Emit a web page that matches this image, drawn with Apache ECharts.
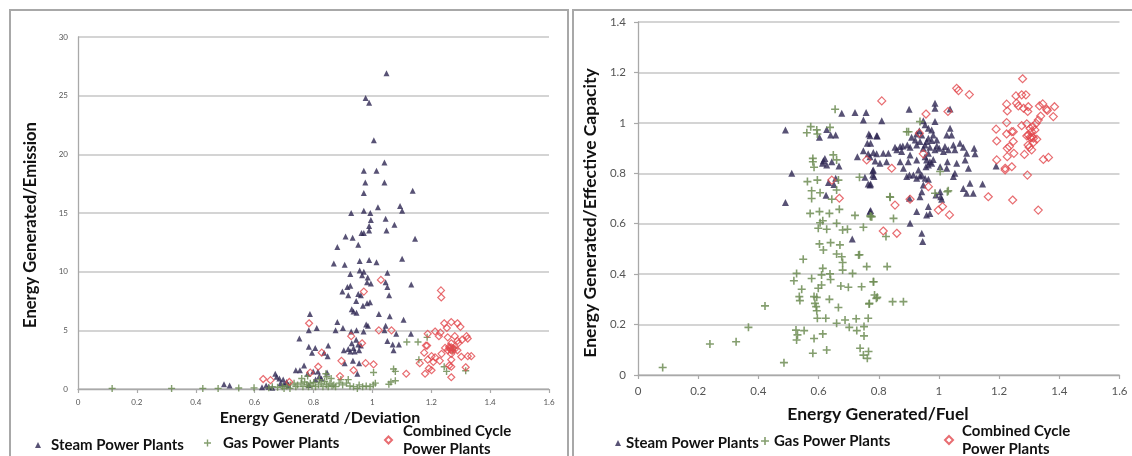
<!DOCTYPE html>
<html>
<head>
<meta charset="utf-8">
<script src="https://cdn.jsdelivr.net/npm/echarts@6/dist/echarts.min.js"></script>
<style>
html,body{margin:0;padding:0;background:#fff;}
#chart{width:1132px;height:456px;}
</style>
</head>
<body>
<div id="chart"></div>
<script>
// ---------- Data (left panel: Energy Generated/Deviation vs Energy Generated/Emission) ----------
const xTicksDev = [0, 0.2, 0.4, 0.6, 0.8, 1, 1.2, 1.4, 1.6];
const yTicksEmission = [0, 5, 10, 15, 20, 25, 30];

const steamDev = [
[1.048,26.9],[0.977,24.8],[0.989,24.4],[1.005,21.2],[1.041,19.3],[0.971,18.6],[1.014,18.6],[0.976,17.6],[1.041,17.6],[0.971,16.7],
[1.137,16.9],[1.094,15.6],[1.101,15.2],[1.019,15.5],[0.928,15.0],[0.971,15.2],[0.993,15.0],[0.995,14.4],[1.045,14.5],[1.075,14.0],
[0.989,13.9],[0.989,13.5],[0.963,13.3],[0.971,13.3],[1.048,13.5],[0.909,13.0],[0.933,12.9],[0.952,12.3],[1.145,12.8],[0.881,12.1],
[1.101,11.1],[0.957,10.9],[0.989,11.0],[1.014,10.8],[0.869,10.7],[0.906,10.6],[0.957,10.1],[0.971,10.0],[1.051,9.9],[0.925,9.8],
[0.965,9.7],[0.984,9.5],[0.982,9.1],[0.995,9.0],[1.045,9.1],[1.051,8.7],[1.132,8.9],[0.915,8.7],[0.925,8.8],[0.898,8.3],
[0.918,8.0],[0.952,8.1],[0.961,8.0],[1.057,8.0],[0.945,7.5],[0.992,7.4],[0.982,7.3],[0.968,7.1],[0.930,6.8],[0.936,6.6],
[0.946,6.5],[1.022,6.4],[0.788,6.4],[1.059,6.2],[1.106,5.9],[0.881,5.7],[0.979,5.5],[0.985,5.4],[1.045,5.4],[0.811,5.2],
[0.900,5.2],[0.784,5.0],[0.875,5.0],[0.928,4.9],[0.946,5.0],[0.970,4.9],[1.041,5.0],[1.131,4.7],[1.081,4.7],[0.752,4.3],
[0.945,4.2],[1.051,4.1],[0.930,3.9],[0.952,3.8],[1.069,3.8],[1.090,3.8],[0.850,3.7],[0.784,3.6],[0.806,3.5],[0.936,3.5],
[0.961,3.7],[0.918,3.4],[0.925,3.2],[0.940,3.2],[1.072,3.3],[0.795,3.1],[0.836,3.1],[0.903,3.3],[0.955,3.3],[0.848,2.8],
[0.934,2.4],[0.906,2.2],[0.955,2.2],[0.949,1.3],[0.768,2.0],[0.740,1.6],[0.754,1.6],[0.780,1.3],[0.799,1.5],[0.815,1.5],
[0.846,1.4],[0.820,1.1],[0.807,0.8],[0.670,1.3],[0.675,1.05],[0.684,0.9],[0.697,0.8],[0.709,0.6],[0.688,0.5],[0.700,0.4],
[0.715,0.35],[0.639,0.3],[0.648,0.2],[0.625,0.15],[0.660,0.1],[0.496,0.4],[0.515,0.3],[0.784,0.35],[0.827,0.9]
];

const gasDev = [
[0.116,0.05],[0.318,0.05],[0.424,0.05],[0.476,0.05],[0.546,0.08],[0.598,0.1],[0.648,0.1],[0.660,0.2],[0.678,0.15],[0.694,0.2],
[0.709,0.25],[0.721,0.35],[0.734,0.5],[0.740,0.2],[0.746,0.35],[0.758,0.5],[0.764,0.2],[0.770,0.6],[0.777,0.35],[0.783,0.2],
[0.789,0.5],[0.795,0.25],[0.801,0.55],[0.807,0.2],[0.817,0.35],[0.826,0.5],[0.832,0.2],[0.838,0.65],[0.844,0.35],[0.850,0.2],
[0.856,0.5],[0.863,0.25],[0.869,0.35],[0.875,0.2],[0.887,0.5],[0.893,0.8],[0.899,0.35],[0.912,0.5],[0.924,0.25],[0.936,0.2],
[0.949,0.05],[0.955,0.35],[0.967,0.2],[0.979,0.25],[0.992,0.2],[1.003,0.35],[1.010,0.5],[0.918,0.8],[0.842,1.3],[0.845,1.05],
[1.004,1.4],[1.072,1.7],[1.078,1.5],[1.063,0.6],[1.056,0.4],[1.078,0.7],[1.117,4.0],[1.155,4.0],[1.186,4.4],[1.158,2.5],
[1.244,1.9],[1.252,1.5],[1.317,1.55],[1.274,3.5],[1.272,3.3],[0.760,0.9],[0.780,1.1],[0.820,0.8],[0.860,0.9],[0.700,0.05],[0.720,0.05]
];

const ccDev = [
[1.233,8.4],[1.234,7.8],[1.029,9.3],[0.971,8.3],[0.785,5.6],[0.928,4.5],[0.965,3.9],[1.022,5.0],[1.065,5.0],[0.828,3.1],
[0.895,2.4],[0.936,1.6],[0.977,2.2],[1.004,2.1],[0.816,1.9],[0.789,1.4],[0.890,1.1],[0.629,0.85],[0.654,0.75],[0.718,0.6],
[1.115,1.3],[1.244,5.6],[1.268,5.7],[1.289,5.6],[1.299,5.3],[1.231,4.8],[1.213,4.9],[1.188,4.7],[1.253,5.2],[1.280,4.5],
[1.320,4.5],[1.324,4.3],[1.305,4.2],[1.289,4.1],[1.256,4.4],[1.226,4.5],[1.268,3.9],[1.292,3.9],[1.182,3.7],[1.186,3.7],
[1.261,3.6],[1.280,3.4],[1.256,3.3],[1.289,3.3],[1.176,3.1],[1.235,3.0],[1.268,3.0],[1.201,2.8],[1.213,2.7],[1.302,2.75],
[1.324,2.8],[1.336,2.8],[1.188,2.5],[1.207,2.3],[1.229,2.4],[1.268,2.5],[1.161,2.2],[1.261,2.0],[1.268,1.9],[1.192,1.75],
[1.201,1.6],[1.317,1.85],[1.179,1.3],[1.268,1.0],[1.247,3.5],[1.268,3.55],[1.274,3.45],[1.266,3.35],[1.271,3.25],[1.262,3.5]
];

// ---------- Data (right panel: Energy Generated/Fuel vs Energy Generated/Effective Capacity) ----------
const xTicksFuel = [0, 0.2, 0.4, 0.6, 0.8, 1, 1.2, 1.4, 1.6];
const yTicksCapacity = [0, 0.2, 0.4, 0.6, 0.8, 1, 1.2, 1.4];

const steamFuel = [
[0.987,1.078],[0.987,1.058],[1.037,1.055],[0.901,1.054],[0.810,1.008],[0.987,1.005],[0.948,1.008],[0.954,0.992],[0.965,0.979],[0.976,0.972],
[1.037,0.979],[1.026,0.952],[1.042,0.952],[0.795,0.948],[0.771,0.949],[0.935,0.969],[0.926,0.956],[0.909,0.943],[0.943,0.952],[0.965,0.939],
[0.981,0.952],[0.993,0.932],[0.976,0.930],[0.959,0.926],[0.954,0.912],[0.937,0.926],[0.921,0.932],[0.895,0.912],[0.854,0.903],[0.871,0.906],
[0.880,0.908],[0.860,0.893],[0.904,0.903],[0.926,0.912],[0.948,0.899],[0.970,0.903],[0.993,0.908],[1.001,0.899],[1.020,0.906],[1.048,0.912],
[1.070,0.919],[1.081,0.903],[1.117,0.899],[1.120,0.877],[1.092,0.879],[1.053,0.893],[1.031,0.893],[1.015,0.886],[0.987,0.893],[0.965,0.879],
[0.954,0.866],[0.959,0.853],[0.970,0.846],[0.976,0.840],[0.965,0.833],[0.981,0.855],[0.957,0.826],[0.926,0.853],[0.904,0.873],[0.876,0.886],
[0.832,0.879],[0.815,0.879],[0.793,0.877],[0.771,0.866],[0.826,0.846],[0.804,0.840],[0.782,0.813],[0.780,0.793],[0.771,0.754],[0.871,0.846],
[0.898,0.846],[0.882,0.820],[0.932,0.813],[0.915,0.793],[0.893,0.787],[0.937,0.789],[0.954,0.780],[0.943,0.793],[0.965,0.776],[0.902,0.793],
[0.926,0.780],[1.028,0.846],[1.004,0.826],[1.026,0.820],[1.048,0.787],[1.053,0.800],[1.059,0.840],[1.087,0.853],[1.098,0.820],[1.103,0.760],
[1.081,0.740],[1.092,0.721],[1.114,0.721],[1.145,0.758],[1.190,0.829],[1.004,0.727],[1.006,0.707],[0.990,0.714],[1.009,0.697],[0.948,0.754],
[0.943,0.727],[0.937,0.707],[0.965,0.668],[0.926,0.648],[0.959,0.635],[0.970,0.641],[0.904,0.602],[0.902,0.701],[0.943,0.562],[0.946,0.529],
[0.771,0.648],[0.677,1.038],[0.721,1.041],[0.758,1.041],[0.749,1.011],[0.490,0.972],[0.627,0.974],[0.603,0.943],[0.640,0.952],[0.657,0.952],
[0.767,0.956],[0.793,0.949],[0.762,0.919],[0.773,0.919],[0.749,0.889],[0.765,0.877],[0.782,0.882],[0.788,0.849],[0.729,0.866],[0.621,0.859],
[0.616,0.850],[0.613,0.840],[0.627,0.833],[0.644,0.846],[0.668,0.829],[0.511,0.800],[0.657,0.780],[0.633,0.763],[0.651,0.756],[0.625,0.713],
[0.754,0.784],[0.765,0.758],[0.773,0.758],[0.784,0.787],[0.780,0.810],[0.490,0.684],[0.773,0.652],[0.712,0.539]
];

const gasFuel = [
[0.655,1.054],[0.574,0.985],[0.561,0.961],[0.594,0.972],[0.596,0.956],[0.638,0.982],[0.581,0.859],[0.581,0.846],[0.585,0.824],[0.649,0.873],
[0.660,0.853],[0.563,0.767],[0.596,0.773],[0.666,0.773],[0.736,0.784],[0.577,0.731],[0.605,0.723],[0.577,0.700],[0.660,0.734],[0.644,0.697],
[0.572,0.641],[0.603,0.648],[0.636,0.641],[0.669,0.657],[0.721,0.633],[0.773,0.628],[0.605,0.604],[0.614,0.612],[0.599,0.582],[0.627,0.578],
[0.660,0.602],[0.680,0.575],[0.696,0.578],[0.749,0.586],[0.603,0.520],[0.616,0.496],[0.640,0.525],[0.671,0.516],[0.660,0.480],[0.680,0.446],
[0.677,0.469],[0.736,0.477],[0.549,0.459],[0.614,0.423],[0.527,0.403],[0.610,0.397],[0.638,0.401],[0.680,0.416],[0.713,0.403],[0.518,0.374],
[0.577,0.383],[0.610,0.357],[0.599,0.344],[0.640,0.379],[0.674,0.353],[0.699,0.348],[0.743,0.350],[0.782,0.370],[0.544,0.340],[0.536,0.311],
[0.538,0.295],[0.585,0.311],[0.594,0.308],[0.588,0.284],[0.592,0.271],[0.594,0.255],[0.636,0.300],[0.666,0.268],[0.769,0.284],[0.795,0.308],
[0.422,0.274],[0.596,0.225],[0.624,0.225],[0.660,0.205],[0.688,0.218],[0.725,0.223],[0.765,0.225],[0.702,0.189],[0.727,0.176],[0.751,0.192],
[0.751,0.155],[0.525,0.178],[0.530,0.159],[0.552,0.176],[0.527,0.139],[0.585,0.145],[0.614,0.163],[0.738,0.106],[0.766,0.093],[0.749,0.079],
[0.762,0.066],[0.581,0.086],[0.627,0.099],[0.485,0.049],[0.367,0.189],[0.326,0.132],[0.239,0.123],[0.082,0.030],[0.937,1.005],[0.893,0.965],
[1.004,0.807],[1.031,0.731],[0.987,0.721],[0.837,0.707],[0.849,0.621],[0.777,0.628],[0.824,0.549],[0.760,0.430],[0.828,0.430],[0.786,0.317],
[0.792,0.304],[0.846,0.291],[0.882,0.291],[0.783,0.370],[0.768,0.282],[0.733,0.476],[0.772,0.631],[0.899,0.965],[1.028,0.727],[0.838,0.705]
];

const ccFuel = [
[1.278,1.175],[1.059,1.137],[1.065,1.128],[1.101,1.112],[0.810,1.087],[1.256,1.107],[1.275,1.111],[1.289,1.111],[1.225,1.074],[1.258,1.078],
[1.264,1.067],[1.297,1.064],[1.295,1.045],[1.334,1.067],[1.345,1.075],[1.384,1.064],[1.358,1.054],[1.360,1.049],[1.227,1.047],[1.281,1.058],
[1.338,1.027],[1.330,1.011],[1.323,0.998],[1.380,1.025],[1.030,1.045],[0.957,1.035],[1.225,1.001],[1.190,0.975],[1.225,0.956],[1.242,0.965],
[1.247,0.965],[1.275,0.989],[1.292,0.996],[1.303,0.978],[1.312,0.985],[1.319,0.972],[1.308,0.965],[1.297,0.952],[1.303,0.943],[1.314,0.939],
[1.325,0.935],[1.292,0.948],[1.306,0.940],[1.310,0.945],[1.192,0.928],[1.247,0.926],[1.234,0.906],[1.227,0.899],[1.314,0.922],[1.296,0.912],
[1.300,0.903],[1.308,0.893],[1.249,0.879],[1.227,0.866],[1.284,0.875],[1.347,0.855],[1.364,0.863],[1.192,0.853],[1.220,0.820],[1.220,0.813],
[1.242,0.826],[1.294,0.793],[1.245,0.694],[1.330,0.654],[1.164,0.707],[0.948,0.877],[0.935,0.959],[0.843,0.820],[0.965,0.747],[0.904,0.697],
[0.854,0.674],[1.012,0.668],[0.998,0.654],[1.035,0.635],[0.815,0.571],[0.860,0.562],[0.760,0.853],[0.644,0.773],[0.669,0.701]
];

// ---------- Styles ----------
const STEAM = '#2e2752';
const GAS = '#6f8d55';
const CC = '#e2494d';
const PLUS = 'path://M4,0 H6 V4 H10 V6 H6 V10 H4 V6 H0 V4 H4 Z';
const FONT = 'Lato, "Open Sans", sans-serif';

function makeAxis(gridIndex, ticks, labelSize, labelMargin, isX) {
  return {
    type: 'value', gridIndex: gridIndex,
    min: ticks[0], max: ticks[ticks.length - 1], interval: ticks[1] - ticks[0],
    axisLine: {show: true, lineStyle: {color: '#a9a9a9', width: 1.3}},
    axisTick: {show: true, length: 4, lineStyle: {color: '#a9a9a9', width: 1.2}},
    axisLabel: {color: '#555', fontSize: labelSize, fontFamily: FONT, margin: labelMargin,
      formatter: v => String(Math.round(v * 10) / 10)},
    splitLine: {show: !isX, lineStyle: {color: '#c6c6c6', width: 1.6}}
  };
}

const chart = echarts.init(document.getElementById('chart'), null, {renderer: 'canvas'});

function legendAt(name, icon, left, top, size, textPad) {
  return {
    left: left, top: top, orient: 'horizontal', selectedMode: false, padding: 0,
    itemWidth: size, itemHeight: size, itemGap: 0,
    data: [{name: name, icon: icon}],
    textStyle: {fontFamily: FONT, fontWeight: 'bold', fontSize: 15, color: '#111', lineHeight: 18,
      padding: [0, 0, 0, textPad]}
  };
}

const option = {
  backgroundColor: '#fff',
  animation: false,
  grid: [
    {left: 78, right: 583, top: 37, bottom: 67},
    {left: 638, right: 12.5, top: 22, bottom: 81}
  ],
  xAxis: [
    makeAxis(0, xTicksDev, 8, 9, true),
    makeAxis(1, xTicksFuel, 11.5, 10, true)
  ],
  yAxis: [
    Object.assign(makeAxis(0, yTicksEmission, 8, 10, false), {axisTick: {show: false}}),
    makeAxis(1, yTicksCapacity, 11.5, 12, false)
  ],
  legend: [
    legendAt('Steam Power Plants', 'triangle', 35, 436, 6, 5),
    legendAt('Gas Power Plants', PLUS, 204, 434, 7, 7),
    legendAt('Combined Cycle\nPower Plants', 'diamond', 384, 422, 7, 6),
    legendAt('Steam Power Plants', 'triangle', 615, 434, 6, 0),
    legendAt('Gas Power Plants', PLUS, 761, 432, 8, 0),
    legendAt('Combined Cycle\nPower Plants', 'diamond', 944, 422, 8, 4)
  ],
  graphic: [
    {type: 'rect', shape: {x: 10, y: 10, width: 558, height: 470}, style: {fill: 'none', stroke: '#a8a8a8', lineWidth: 2}, silent: true},
    {type: 'rect', shape: {x: 573, y: 10, width: 580, height: 470}, style: {fill: 'none', stroke: '#a8a8a8', lineWidth: 2}, silent: true},
    {type: 'text', x: 31, y: 225, rotation: Math.PI / 2,
      style: {text: 'Energy Generated/Emission', font: 'bold 16.6px ' + FONT, fill: '#111', textAlign: 'center', textVerticalAlign: 'middle'}},
    {type: 'text', x: 320, y: 418,
      style: {text: 'Energy Generatd /Deviation', font: 'bold 16px ' + FONT, fill: '#111', textAlign: 'center', textVerticalAlign: 'middle'}},
    {type: 'text', x: 590, y: 213, rotation: Math.PI / 2,
      style: {text: 'Energy Generated/Effective Capacity', font: 'bold 17.5px ' + FONT, fill: '#111', textAlign: 'center', textVerticalAlign: 'middle'}},
    {type: 'text', x: 878, y: 414,
      style: {text: 'Energy Generated/Fuel', font: 'bold 17.5px ' + FONT, fill: '#111', textAlign: 'center', textVerticalAlign: 'middle'}}
  ],
  series: [
    {name: 'Steam Power Plants', type: 'scatter', xAxisIndex: 0, yAxisIndex: 0, data: steamDev,
      symbol: 'triangle', symbolSize: 6, itemStyle: {color: STEAM}},
    {name: 'Gas Power Plants', type: 'scatter', xAxisIndex: 0, yAxisIndex: 0, data: gasDev,
      symbol: PLUS, symbolSize: 7, itemStyle: {color: GAS, opacity: 0.85}},
    {name: 'Combined Cycle\nPower Plants', type: 'scatter', xAxisIndex: 0, yAxisIndex: 0, data: ccDev,
      symbol: 'diamond', symbolSize: 7, itemStyle: {color: 'rgba(255,255,255,0)', borderColor: CC, borderWidth: 1.2}},
    {name: 'Steam Power Plants', type: 'scatter', xAxisIndex: 1, yAxisIndex: 1, data: steamFuel,
      symbol: 'triangle', symbolSize: 7, itemStyle: {color: STEAM}},
    {name: 'Gas Power Plants', type: 'scatter', xAxisIndex: 1, yAxisIndex: 1, data: gasFuel,
      symbol: PLUS, symbolSize: 8, itemStyle: {color: GAS, opacity: 0.85}},
    {name: 'Combined Cycle\nPower Plants', type: 'scatter', xAxisIndex: 1, yAxisIndex: 1, data: ccFuel,
      symbol: 'diamond', symbolSize: 8, itemStyle: {color: 'rgba(255,255,255,0)', borderColor: CC, borderWidth: 1.2}}
  ]
};
chart.setOption(option);
</script>
</body>
</html>
